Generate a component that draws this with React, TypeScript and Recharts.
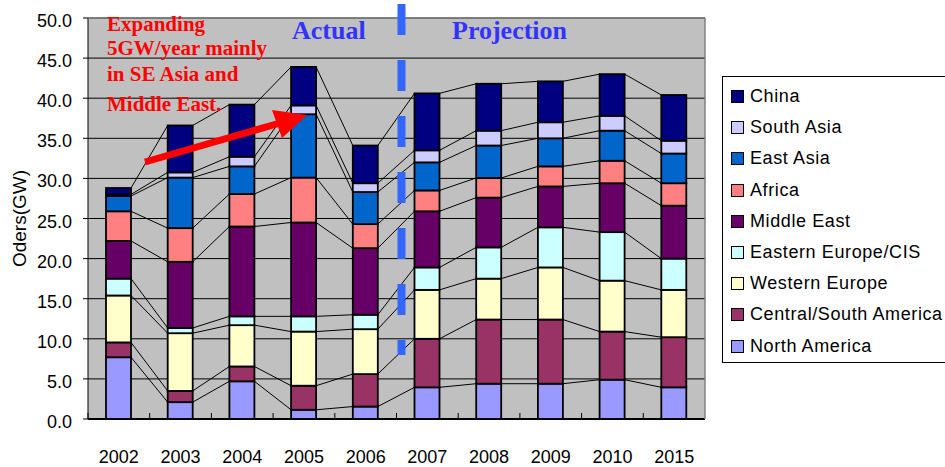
import React from 'react'
import { BarChart, Bar, XAxis, YAxis, CartesianGrid } from 'recharts'

// categories and values (GW)
const years = ['2002', '2003', '2004', '2005', '2006', '2007', '2008', '2009', '2010', '2015']
const northAmerica = [7.7, 2.1, 4.7, 1.15, 1.55, 3.95, 4.4, 4.4, 4.9, 3.95]
const centralSouthAmerica = [1.85, 1.4, 1.85, 3.0, 4.05, 6.05, 8.0, 8.0, 6.0, 6.25]
const westernEurope = [5.85, 7.2, 5.15, 6.75, 5.6, 6.1, 5.1, 6.5, 6.35, 5.9]
const easternEuropeCIS = [2.1, 0.65, 1.1, 1.9, 1.8, 2.8, 3.9, 5.0, 6.05, 3.9]
const middleEast = [4.7, 8.25, 11.2, 11.7, 8.3, 7.0, 6.2, 5.1, 6.1, 6.6]
const africa = [3.7, 4.2, 4.05, 5.6, 3.0, 2.6, 2.45, 2.5, 2.8, 2.8]
const eastAsia = [1.9, 6.3, 3.45, 7.9, 4.0, 3.5, 4.05, 3.5, 3.75, 3.7]
const southAsia = [0.2, 0.65, 1.2, 1.1, 1.1, 1.5, 1.85, 2.0, 1.85, 1.6]
const china = [0.8, 5.85, 6.5, 4.8, 4.7, 7.1, 5.85, 5.1, 5.2, 5.7]
const yTicks = [0, 5, 10, 15, 20, 25, 30, 35, 40, 45, 50]

const series = [
  { key: 'na', name: 'North America', color: '#9999FF', values: northAmerica },
  { key: 'csa', name: 'Central/South America', color: '#993366', values: centralSouthAmerica },
  { key: 'we', name: 'Western Europe', color: '#FFFFCC', values: westernEurope },
  { key: 'ee', name: 'Eastern Europe/CIS', color: '#CCFFFF', values: easternEuropeCIS },
  { key: 'me', name: 'Middle East', color: '#660066', values: middleEast },
  { key: 'af', name: 'Africa', color: '#FF8080', values: africa },
  { key: 'ea', name: 'East Asia', color: '#0066CC', values: eastAsia },
  { key: 'sa', name: 'South Asia', color: '#CCCCFF', values: southAsia },
  { key: 'cn', name: 'China', color: '#000080', values: china },
]

const data = years.map((year, i) => {
  const row: Record<string, string | number> = { year }
  series.forEach(s => { row[s.key] = s.values[i] })
  return row
})

// running totals, used for the series lines between bars
const cumulative: number[][] = []
series.forEach((s, si) => {
  cumulative.push(s.values.map((v, i) => v + (si > 0 ? cumulative[si - 1][i] : 0)))
})

// layout
const W = 945
const H = 467
const PLOT_LEFT = 88
const PLOT_RIGHT = 705
const PLOT_TOP = 18
const PLOT_BOTTOM = 419
const STEP = (PLOT_RIGHT - PLOT_LEFT) / years.length

const sans = '"Liberation Sans", Arial, sans-serif'
const serif = '"Liberation Serif", "Times New Roman", serif'

const makeShape = (si: number) => (props: any) => {
  const { x, y, width, height, index } = props
  const val = series[si].values[index]
  const k = val > 0 ? height / val : (PLOT_BOTTOM - PLOT_TOP) / 50
  let connector = null
  if (index < years.length - 1) {
    const yNext = y + k * (cumulative[si][index] - cumulative[si][index + 1])
    connector = (
      <line x1={x + width} y1={y} x2={x + STEP} y2={yNext} stroke="#000" strokeWidth={1} />
    )
  }
  return (
    <g>
      <rect x={x} y={y} width={width} height={height} fill={series[si].color} stroke="#000" strokeWidth={1.8} />
      {connector}
    </g>
  )
}

const YTick = (props: any) => {
  const { x, y, payload } = props
  return (
    <text x={x} y={y} dy={9} textAnchor="end" fontSize={18} fontFamily={sans} fill="#000">
      {Number(payload.value).toFixed(1)}
    </text>
  )
}

function LegendBox() {
  const items = [...series].reverse()
  return (
    <div
      style={{
        position: 'absolute',
        left: 722,
        top: 76,
        width: 260,
        height: 287,
        border: '1px solid #000',
        background: '#fff',
        boxSizing: 'border-box',
        paddingTop: 4,
        fontFamily: sans,
        fontSize: 18,
        letterSpacing: 0.6,
      }}
    >
      {items.map(s => (
        <div key={s.key} style={{ height: 31.2, display: 'flex', alignItems: 'center', whiteSpace: 'nowrap' }}>
          <span
            style={{
              display: 'inline-block',
              width: 11,
              height: 11,
              marginLeft: 8,
              marginRight: 6,
              background: s.color,
              border: '1px solid #000',
            }}
          />
          <span>{s.name}</span>
        </div>
      ))}
    </div>
  )
}

function Overlay() {
  const ticks = years.map((_, i) => PLOT_LEFT + STEP * i)
  return (
    <svg width={W} height={H} style={{ position: 'absolute', left: 0, top: 0, pointerEvents: 'none' }}>
      {/* plot border, top and right */}
      <line x1={PLOT_LEFT} y1={PLOT_TOP} x2={PLOT_RIGHT} y2={PLOT_TOP} stroke="#808080" strokeWidth={1.5} />
      <line x1={PLOT_RIGHT} y1={PLOT_TOP} x2={PLOT_RIGHT} y2={PLOT_BOTTOM} stroke="#808080" strokeWidth={1.5} />
      {/* category boundary ticks */}
      {ticks.map((tx, i) => (
        <line key={i} x1={tx} y1={PLOT_BOTTOM - 6} x2={tx} y2={PLOT_BOTTOM} stroke="#000" strokeWidth={1} />
      ))}
      {/* actual / projection divider */}
      <line x1={401.5} y1={4} x2={401.5} y2={355} stroke="#3366FF" strokeWidth={8} strokeDasharray="31 25" />
      <text x={292} y={39} fontFamily={serif} fontWeight="bold" fontSize={26} fill="#3333FF">Actual</text>
      <text x={452} y={39} fontFamily={serif} fontWeight="bold" fontSize={26} fill="#3333FF">Projection</text>
      {/* annotation */}
      <g fontFamily={serif} fontWeight="bold" fontSize={21} fill="#FF0000">
        <text x={107} y={31}>Expanding</text>
        <text x={107} y={55}>5GW/year mainly</text>
        <text x={107} y={81}>in SE Asia and</text>
        <text x={107} y={111}>Middle East.</text>
      </g>
      <line x1={145} y1={162} x2={280} y2={123} stroke="#FF0000" strokeWidth={7} />
      <polygon points="272,110 282,138 307,115" fill="#FF0000" />
    </svg>
  )
}

export default function App() {
  return (
    <div style={{ position: 'fixed', left: 0, top: 0, width: W, height: H, overflow: 'hidden', background: '#fff' }}>
      <BarChart
        width={W}
        height={H}
        data={data}
        margin={{ top: PLOT_TOP, right: W - PLOT_RIGHT, bottom: 0, left: 0 }}
        barSize={25}
      >
        <CartesianGrid vertical={false} stroke="#000" fill="#C0C0C0" />
        <XAxis
          dataKey="year"
          height={H - PLOT_BOTTOM}
          tickLine={false}
          axisLine={{ stroke: '#000', strokeWidth: 2 }}
          tickMargin={25}
          tick={{ fontSize: 18, fill: '#000', fontFamily: sans }}
          interval={0}
        />
        <YAxis
          width={PLOT_LEFT}
          domain={[0, 50]}
          ticks={yTicks}
          tickSize={5}
          tickMargin={11}
          tickLine={{ stroke: '#000' }}
          axisLine={{ stroke: '#000' }}
          tick={<YTick />}
          label={{
            value: 'Oders(GW)',
            angle: -90,
            position: 'insideLeft',
            offset: 19,
            style: { textAnchor: 'middle', fontSize: 19, fill: '#000', fontFamily: sans },
          }}
        />
        {series.map((s, si) => (
          <Bar
            key={s.key}
            dataKey={s.key}
            name={s.name}
            stackId="orders"
            fill={s.color}
            shape={makeShape(si)}
            isAnimationActive={false}
          />
        ))}
      </BarChart>
      <Overlay />
      <LegendBox />
    </div>
  )
}
